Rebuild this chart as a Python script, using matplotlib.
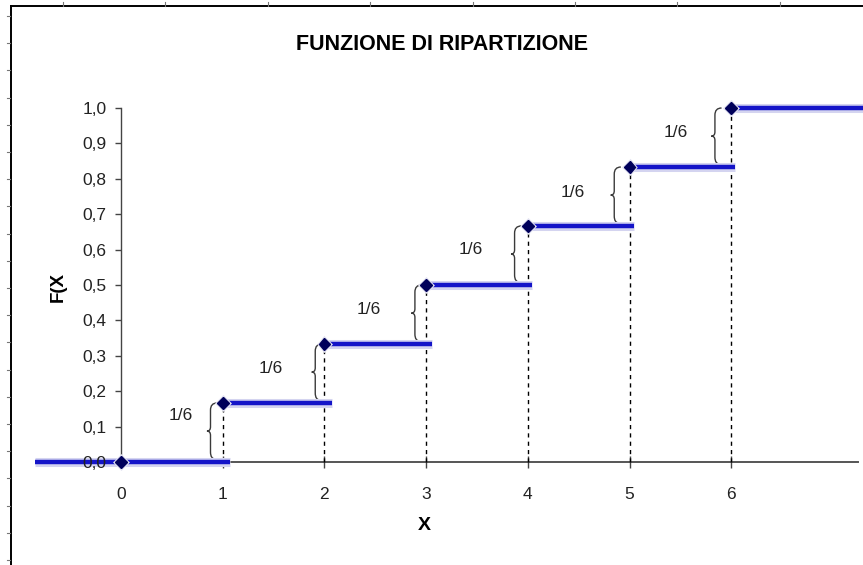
import matplotlib
matplotlib.use("Agg")
import matplotlib.pyplot as plt
import matplotlib.patheffects as pe
from matplotlib.path import Path
from matplotlib.patches import PathPatch
from matplotlib.lines import Line2D
from matplotlib.ticker import FuncFormatter, FixedLocator

plt.rcParams['font.family'] = ['Liberation Sans', 'DejaVu Sans']

# ---- data ----
x_vals = [0, 1, 2, 3, 4, 5, 6]
F_vals = [0.0, 0.1667, 0.3333, 0.5, 0.6667, 0.8333, 1.0]
seg_start = [-0.85, 1, 2, 3, 4, 5, 6]
seg_end = [1.07, 2.07, 3.06, 4.04, 5.04, 6.04, 7.5]
jump_labels = ["1/6", "1/6", "1/6", "1/6", "1/6", "1/6"]
label_x = [0.59, 1.47, 2.44, 3.44, 4.44, 5.45]
label_y = [0.13, 0.263, 0.43, 0.60, 0.76, 0.93]
brace_x = [0.88, 1.91, 2.89, 3.87, 4.85, 5.84]
x_ticks = [0, 1, 2, 3, 4, 5, 6]
y_ticks = [0.0, 0.1, 0.2, 0.3, 0.4, 0.5, 0.6, 0.7, 0.8, 0.9, 1.0]
title = "FUNZIONE DI RIPARTIZIONE"
xlabel = "X"
ylabel = "F(X"

W, H = 863, 565
fig = plt.figure(figsize=(W / 100, H / 100), dpi=100)
fig.patch.set_facecolor('white')

ax = fig.add_axes([0, 0, 1, 1])
ax.set_facecolor('none')
px_per_x = 101.7
px_per_y = 354.0
x0_px, y0_px = 121.0, 462.0
ax.set_xlim(-x0_px / px_per_x, (W - x0_px) / px_per_x)
ax.set_ylim(-(H - y0_px) / px_per_y, y0_px / px_per_y)

# spines
for s in ['top', 'right']:
    ax.spines[s].set_visible(False)
ax.spines['left'].set_position(('data', 0))
ax.spines['left'].set_bounds(0, 1.0)
ax.spines['left'].set_color('#444444')
ax.spines['left'].set_linewidth(1.0)
ax.spines['left'].set_zorder(1)
ax.spines['bottom'].set_position(('data', 0))
ax.spines['bottom'].set_bounds(0, 7.25)
ax.spines['bottom'].set_color('#555555')
ax.spines['bottom'].set_linewidth(1.4)
ax.spines['bottom'].set_zorder(1)
ax.yaxis.set_zorder(4)
ax.xaxis.set_zorder(1.5)

ax.xaxis.set_major_locator(FixedLocator(x_ticks))
ax.yaxis.set_major_locator(FixedLocator(y_ticks))
ax.yaxis.set_major_formatter(FuncFormatter(lambda v, p: f"{v:.1f}".replace('.', ',')))
ax.xaxis.set_major_formatter(FuncFormatter(lambda v, p: f"{int(round(v))}"))
ax.tick_params(axis='y', direction='out', length=4.5, width=1, color='#444444',
               pad=6.0, labelsize=12.5, labelcolor='#222222')
ax.tick_params(axis='x', direction='inout', length=8.5, width=1, color='#444444',
               pad=14, labelsize=12.5, labelcolor='#222222')

# dashed verticals
for xv, fv in zip(x_vals[1:], F_vals[1:]):
    ax.plot([xv, xv], [0, fv], color='black', lw=1.0, linestyle=(0, (3, 3)), zorder=2)

# step segments
for xs, xe, fv in zip(seg_start, seg_end, F_vals):
    ax.plot([xs, xe], [fv, fv], color='#1414c8', lw=3.2, solid_capstyle='butt', zorder=3,
            path_effects=[pe.Stroke(linewidth=6.5, foreground='#d4d4f0'), pe.Normal()])

# markers
ax.plot(x_vals, F_vals, linestyle='none', marker='D', markersize=6.0,
        color='#00005a', markeredgecolor='#00005a', zorder=5,
        path_effects=[pe.Stroke(linewidth=2.5, foreground='#e0e0f0'), pe.Normal()])


def brace(xb, yb0, yb1, w=0.065, d=0.035, r=0.02):
    ym = (yb0 + yb1) / 2
    verts = [(xb + w, yb1), (xb, yb1), (xb, yb1 - r),
             (xb, ym + 0.012),
             (xb, ym), (xb - d, ym),
             (xb, ym), (xb, ym - 0.012),
             (xb, yb0 + r),
             (xb, yb0), (xb + w * 0.8, yb0)]
    codes = [Path.MOVETO, Path.CURVE3, Path.CURVE3, Path.LINETO,
             Path.CURVE3, Path.CURVE3, Path.CURVE3, Path.CURVE3,
             Path.LINETO, Path.CURVE3, Path.CURVE3]
    return PathPatch(Path(verts, codes), fill=False, edgecolor='#3a3a3a', lw=1.0, zorder=2)


for i in range(len(brace_x)):
    ax.add_patch(brace(brace_x[i], F_vals[i] + 0.008, F_vals[i + 1]))
    ax.text(label_x[i], label_y[i], jump_labels[i], ha='center', va='center',
            fontsize=12.5, color='#222222')

fig.text(442 / W, 1 - 45 / H, title, ha='center', va='center',
         fontsize=15.5, fontweight='bold', color='black')
fig.text(424 / W, 1 - 525 / H, xlabel, ha='center', va='center',
         fontsize=14, fontweight='bold', color='black')
fig.text(58 / W, 1 - 287 / H, ylabel, ha='center', va='center', rotation=90,
         fontsize=13.5, fontweight='bold', color='black')

# outer frame (sheet border with ruler ticks)
def fx(px):
    return px / W


def fy(py):
    return 1 - py / H


fig.add_artist(Line2D([fx(10.5), fx(10.5)], [fy(5.5), fy(565)], color='black', lw=1.4,
                      transform=fig.transFigure))
fig.add_artist(Line2D([fx(10.5), fx(863)], [fy(5.5), fy(5.5)], color='black', lw=1.4,
                      transform=fig.transFigure))
py = 16.0
while py < H:
    fig.add_artist(Line2D([fx(6.5), fx(10)], [fy(py), fy(py)], color='#777777', lw=0.8,
                          transform=fig.transFigure))
    py += 27.2
px = 63.0
while px < W:
    fig.add_artist(Line2D([fx(px), fx(px)], [fy(2), fy(5.5)], color='#777777', lw=0.8,
                          transform=fig.transFigure))
    px += 102.4

fig.savefig("out.png", dpi=100)
